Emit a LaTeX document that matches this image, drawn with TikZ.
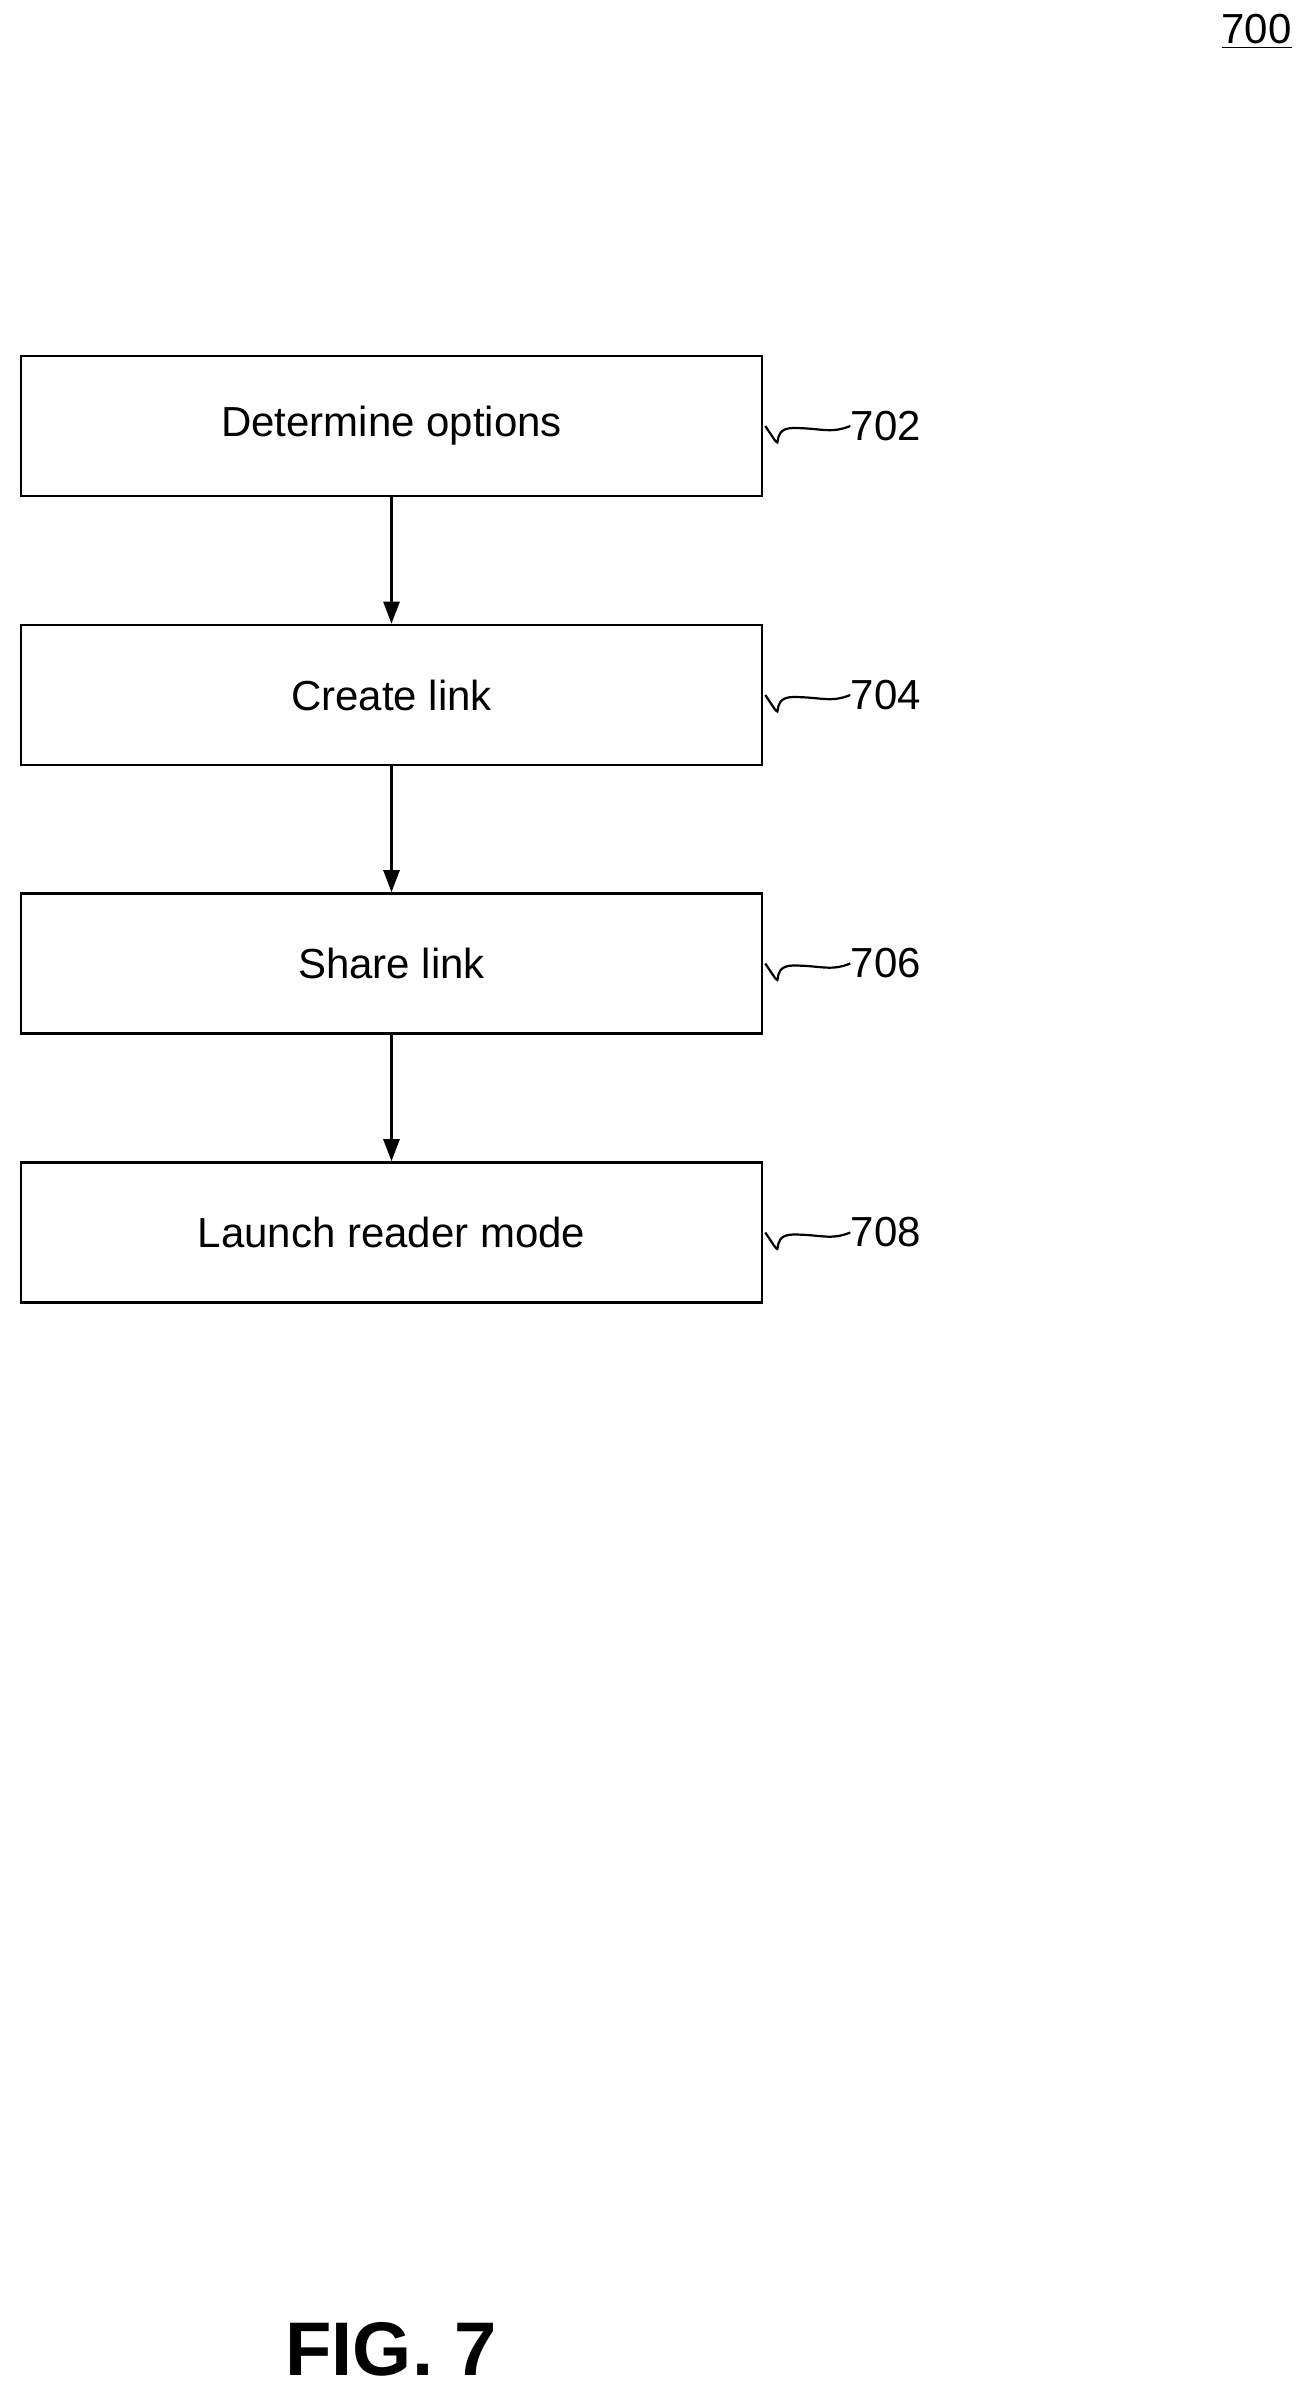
\documentclass[tikz,border=0pt]{standalone}
\usepackage{fontspec}
\setmainfont{Liberation Sans}
\usetikzlibrary{arrows.meta}
\begin{document}
\begin{tikzpicture}[x=0.5pt,y=-0.5pt,
  box/.style={draw,line width=1.3pt,minimum width=370.5pt,minimum height=70pt,inner sep=0pt,font=\fontsize{21}{25}\selectfont},
  lbl/.style={anchor=west,inner sep=0pt,font=\fontsize{21}{25}\selectfont},
  arr/.style={-{Triangle[length=11pt,width=8pt]},line width=1.3pt},
  sq/.style={line width=1.1pt}]
\useasboundingbox (0,0) rectangle (1310,2395);
\node[box] (b1) at (391.5,426) {Determine options};
\node[box] (b2) at (391.5,695) {Create link};
\node[box] (b3) at (391.5,963.5) {Share link};
\node[box] (b4) at (391.5,1232.5) {Launch reader mode};
\draw[arr] (b1) -- (b2);
\draw[arr] (b2) -- (b3);
\draw[arr] (b3) -- (b4);
\foreach \b/\t in {b1/702,b2/704,b3/706,b4/708}{
  \node[lbl] (l\b) at ([xshift=43.5pt]\b.east) {\t};
  \draw[sq] ([xshift=1pt]\b.east) .. controls +(12pt,-18pt) and +(-14pt,0pt) .. ([xshift=15pt,yshift=-1pt]\b.east)
     .. controls +(14pt,0pt) and +(-10pt,-4pt) .. (l\b.west);
}
\node[lbl,anchor=north east] (t700) at (1292,14) {\underline{700}};
\node[font=\bfseries\fontsize{38}{44}\selectfont] (fig) at (391,2349) {FIG. 7};
\end{tikzpicture}
\end{document}
